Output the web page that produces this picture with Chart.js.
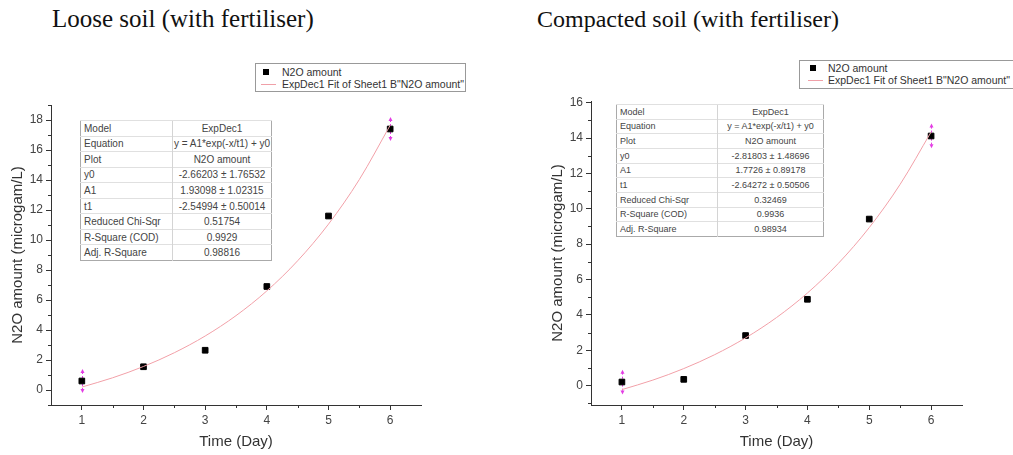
<!DOCTYPE html>
<html>
<head>
<meta charset="utf-8">
<script src="https://cdn.jsdelivr.net/npm/chart.js@4.4.1/dist/chart.umd.min.js"></script>
<style>
  body { margin: 0; background: #fff; width: 1013px; height: 455px; overflow: hidden; position: relative;
         font-family: "Liberation Sans", Arial, sans-serif; }
  .title { position: absolute; font-family: "Liberation Serif", "Times New Roman", serif; color: #111;
           white-space: nowrap; }
  canvas { position: absolute; top: 0; }
  .legend { position: absolute; border: 1px solid #999; background: #fff; font-size: 10.5px; color: #333;
            white-space: nowrap; overflow: hidden; box-sizing: border-box; }
  .legend div { position: relative; height: 12px; line-height: 12px; }
  .sym-sq { position: absolute; top: 3px; width: 6px; height: 6px; background: #000; }
  .sym-ln { position: absolute; top: 6px; width: 15px; height: 1px; background: #f0a0a8; }
  table.stats { position: absolute; border-collapse: collapse; border: 1px solid #aaa; background: #fff;
                color: #444; table-layout: fixed; }
  table.stats td { border-top: 1px solid #e0e0e0; padding: 0 0 0 3px; white-space: nowrap; overflow: hidden; }
  table.stats td + td { border-left: 1px solid #d4d4d4; text-align: center; padding: 0; }
</style>
</head>
<body>
<div class="title" id="t1" style="left:52px; top:6px; font-size:25px; line-height:25px;">Loose soil (with fertiliser)</div>
<div class="title" id="t2" style="left:537px; top:7px; font-size:24px; line-height:24px;">Compacted soil (with fertiliser)</div>

<canvas id="loose" width="500" height="455" style="left:0px;"></canvas>
<canvas id="compact" width="473" height="455" style="left:540px;"></canvas>

<div class="legend" id="leg1" style="left:255px; top:63px; width:211px; height:29px; padding-top:2px;"></div>
<div class="legend" id="leg2" style="left:799px; top:60px; width:240px; height:29px; padding-top:1px;"></div>

<table class="stats" id="tab1" style="left:80px; top:120px; width:192px; height:141px; font-size:10px;"></table>
<table class="stats" id="tab2" style="left:616px; top:104px; width:208px; height:133px; font-size:9px;"></table>

<script>
// measured N2O per day
const days = [1, 2, 3, 4, 5, 6];
const looseN2O = [0.6, 1.55, 2.65, 6.9, 11.6, 17.4];
const looseErr = [0.8, 0, 0, 0, 0, 0.8];
const compactN2O = [0.2, 0.35, 2.83, 4.88, 9.42, 14.12];
const compactErr = [0.7, 0, 0, 0, 0, 0.7];

// ExpDec1 fit curves, sampled every half day
const fitDays = [1, 1.5, 2, 2.5, 3, 3.5, 4, 4.5, 5, 5.5, 6];
const looseFit = [0.196, 0.815, 1.568, 2.485, 3.600, 4.957, 6.607, 8.616, 11.059, 14.031, 17.648];
const compactFit = [-0.230, 0.309, 0.960, 1.747, 2.698, 3.847, 5.235, 6.912, 8.939, 11.388, 14.345];

// axis ticks
const dayTicks = [1, 2, 3, 4, 5, 6];
const dayMinor = [1.5, 2.5, 3.5, 4.5, 5.5];
const looseTicks = [0, 2, 4, 6, 8, 10, 12, 14, 16, 18];
const looseMinor = [-1, 1, 3, 5, 7, 9, 11, 13, 15, 17, 19];
const compactTicks = [0, 2, 4, 6, 8, 10, 12, 14, 16];
const compactMinor = [-1, 1, 3, 5, 7, 9, 11, 13, 15];

// fit report
const statNames = ["Model", "Equation", "Plot", "y0", "A1", "t1", "Reduced Chi-Sqr", "R-Square (COD)", "Adj. R-Square"];
const looseStats = ["ExpDec1", "y = A1*exp(-x/t1) + y0", "N2O amount", "-2.66203 \u00b1 1.76532",
  "1.93098 \u00b1 1.02315", "-2.54994 \u00b1 0.50014", "0.51754", "0.9929", "0.98816"];
const compactStats = ["ExpDec1", "y = A1*exp(-x/t1) + y0", "N2O amount", "-2.81803 \u00b1 1.48696",
  "1.7726 \u00b1 0.89178", "-2.64272 \u00b1 0.50506", "0.32469", "0.9936", "0.98934"];

const legendNames = ["N2O amount", "ExpDec1 Fit of Sheet1 B\"N2O amount\""];

const FONT = "'Liberation Sans', Arial, sans-serif";
const AXIS = "#333";

function fillTable(id, values, col1) {
  const tab = document.getElementById(id);
  statNames.forEach((name, i) => {
    const tr = document.createElement("tr");
    tr.innerHTML = `<td style="width:${col1}px">${name}</td><td>${values[i]}</td>`;
    tab.appendChild(tr);
  });
}

function fillLegend(id, symLeft, textLeft) {
  const leg = document.getElementById(id);
  leg.innerHTML = `
    <div style="padding-left:${textLeft}px"><span class="sym-sq" style="left:${symLeft}px"></span>${legendNames[0]}</div>
    <div style="padding-left:${textLeft}px"><span class="sym-ln" style="left:${symLeft - 2}px"></span>${legendNames[1]}</div>`;
}

// error arrows and minor ticks
const extras = {
  id: "extras",
  beforeDatasetsDraw(chart, args, opts) {
    const ctx = chart.ctx;
    const xs = chart.scales.x, ys = chart.scales.y;
    ctx.save();
    ctx.strokeStyle = "#e33ce3";
    ctx.fillStyle = "#e33ce3";
    ctx.lineWidth = 1;
    opts.values.forEach((v, i) => {
      const e = opts.errors[i];
      if (!e) return;
      const x = Math.round(xs.getPixelForValue(days[i])) + 0.5;
      const top = ys.getPixelForValue(v + e);
      const bot = ys.getPixelForValue(v - e);
      ctx.setLineDash([2, 2]);
      ctx.beginPath();
      ctx.moveTo(x, top + 3);
      ctx.lineTo(x, bot - 3);
      ctx.stroke();
      ctx.setLineDash([]);
      ctx.beginPath();
      ctx.moveTo(x, top); ctx.lineTo(x - 2, top + 4); ctx.lineTo(x + 2, top + 4); ctx.closePath();
      ctx.moveTo(x, bot); ctx.lineTo(x - 2, bot - 4); ctx.lineTo(x + 2, bot - 4); ctx.closePath();
      ctx.fill();
    });
    ctx.restore();
  },
  afterDraw(chart, args, opts) {
    const ctx = chart.ctx;
    const xs = chart.scales.x, ys = chart.scales.y;
    const area = chart.chartArea;
    ctx.save();
    ctx.strokeStyle = AXIS;
    ctx.lineWidth = 1;
    ctx.beginPath();
    dayMinor.forEach(v => {
      const x = Math.round(xs.getPixelForValue(v)) + 0.5;
      ctx.moveTo(x, area.bottom);
      ctx.lineTo(x, area.bottom + 3);
    });
    opts.minorY.forEach(v => {
      const y = Math.round(ys.getPixelForValue(v)) + 0.5;
      ctx.moveTo(area.left, y);
      ctx.lineTo(area.left - 3, y);
    });
    ctx.stroke();
    ctx.restore();
  }
};

function makeChart(id, values, errors, fit, yMin, yMax, yTicks, yMinor, padTop, padRight) {
  return new Chart(document.getElementById(id), {
    type: "scatter",
    data: {
      datasets: [
        {
          label: legendNames[1],
          data: fitDays.map((d, i) => ({ x: d, y: fit[i] })),
          showLine: true,
          borderColor: "#f2a0a8",
          borderWidth: 1,
          pointRadius: 0,
          cubicInterpolationMode: "monotone",
        },
        {
          label: legendNames[0],
          data: days.map((d, i) => ({ x: d, y: values[i] })),
          pointStyle: "rect",
          pointRadius: 4,
          backgroundColor: "#000",
          borderColor: "#000",
          borderWidth: 1,
        },
      ],
    },
    options: {
      responsive: false,
      animation: false,
      devicePixelRatio: 1,
      layout: { padding: { top: padTop, right: padRight, left: 0, bottom: 0 } },
      plugins: {
        legend: { display: false },
        tooltip: { enabled: false },
        extras: { values: values, errors: errors, minorY: yMinor },
      },
      scales: {
        x: {
          type: "linear",
          min: 0.5,
          max: 6.5,
          afterBuildTicks: (s) => { s.ticks = dayTicks.map(v => ({ value: v })); },
          afterFit: (s) => { s.height = 50; },
          grid: { drawOnChartArea: false, tickLength: 5, color: AXIS },
          border: { color: AXIS, width: 1 },
          ticks: { color: "#444", font: { family: FONT, size: 12 }, padding: 3, maxRotation: 0 },
          title: { display: true, text: "Time (Day)", color: "#333", font: { family: FONT, size: 15 }, padding: { top: 4, bottom: 4 } },
        },
        y: {
          type: "linear",
          min: yMin,
          max: yMax,
          afterBuildTicks: (s) => { s.ticks = yTicks.map(v => ({ value: v })); },
          afterFit: (s) => { s.width = 51; },
          grid: { drawOnChartArea: false, tickLength: 5, color: AXIS },
          border: { color: AXIS, width: 1 },
          ticks: { color: "#444", font: { family: FONT, size: 12 }, padding: 3 },
          title: { display: true, text: "N2O amount (microgam/L)", color: "#333", font: { family: FONT, size: 15 }, padding: { top: 9, bottom: 4 } },
        },
      },
    },
    plugins: [extras],
  });
}

fillTable("tab1", looseStats, 88);
fillTable("tab2", compactStats, 97);
fillLegend("leg1", 7, 26);
fillLegend("leg2", 10, 28);

makeChart("loose", looseN2O, looseErr, looseFit, -1, 19, looseTicks, looseMinor, 105, 79);
makeChart("compact", compactN2O, compactErr, compactFit, -1.1, 16.1, compactTicks, compactMinor, 101, 51);
</script>
</body>
</html>
